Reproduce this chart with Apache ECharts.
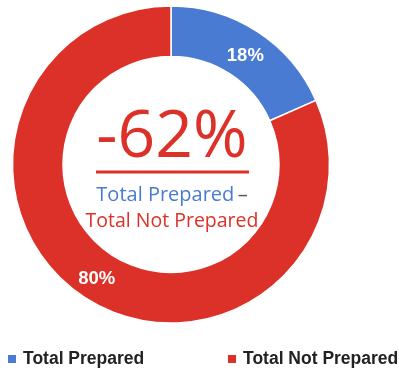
<!DOCTYPE html>
<html>
<head>
<meta charset="utf-8">
<script src="https://cdn.jsdelivr.net/npm/echarts@6/dist/echarts.min.js"></script>
<style>
  html, body { margin: 0; padding: 0; background: #fff; }
  #chart { width: 399px; height: 371px; }
</style>
</head>
<body>
<div id="chart"></div>
<script>
// Share of respondents prepared vs. not prepared
const categories = ['Total Prepared', 'Total Not Prepared'];
const shares = [18, 80];
const colors = ['#4A7BD2', '#DC3128'];
const headline = '-62%';
const captionTop = 'Total Prepared';
const captionBottom = 'Total Not Prepared';

const chart = echarts.init(document.getElementById('chart'), null, { renderer: 'canvas' });

const pieData = categories.map((name, i) => ({
  name,
  value: shares[i],
  itemStyle: { color: colors[i] },
  // nudge the small slice's label a little toward the ring centre line
  label: i === 0 ? { offset: [0, 6] } : {}
}));

const legendBase = {
  orient: 'horizontal',
  top: 350,
  padding: 0,
  itemWidth: 10,
  itemHeight: 10,
  icon: 'rect',
  textStyle: {
    fontFamily: 'Liberation Sans, Arial, sans-serif',
    fontWeight: 'bold',
    fontSize: 17.5,
    color: '#222',
    padding: [0, 0, 0, 1]
  }
};

chart.setOption({
  animation: false,
  legend: [
    Object.assign({ left: 6, data: [categories[0]] }, legendBase),
    Object.assign({ left: 226, data: [categories[1]] }, legendBase)
  ],
  series: [{
    type: 'pie',
    center: [171, 164.5],
    radius: [108, 158.5],
    startAngle: 90,
    clockwise: true,
    avoidLabelOverlap: false,
    itemStyle: { borderColor: '#fff', borderWidth: 1.5 },
    label: {
      show: true,
      position: 'inside',
      formatter: p => p.value + '%',
      color: '#fff',
      fontFamily: 'Liberation Sans, Arial, sans-serif',
      fontWeight: 'bold',
      fontSize: 18.5
    },
    labelLine: { show: false },
    emphasis: { disabled: true },
    data: pieData
  }],
  graphic: [
    {
      type: 'text',
      x: 172, y: 171,
      style: {
        text: headline,
        fill: colors[1],
        font: '66px "Open Sans", sans-serif',
        textAlign: 'center',
        textVerticalAlign: 'bottom'
      }
    },
    {
      type: 'line',
      shape: { x1: 96, y1: 172, x2: 249, y2: 172 },
      style: { stroke: colors[1], lineWidth: 3 }
    },
    {
      type: 'text',
      x: 172, y: 195,
      style: {
        rich: {
          a: { fill: colors[0], font: '20px "Open Sans", sans-serif' },
          b: { fill: '#555', font: '20px "Open Sans", sans-serif' }
        },
        text: '{a|' + captionTop + '} {b|–}',
        textAlign: 'center',
        textVerticalAlign: 'middle'
      }
    },
    {
      type: 'text',
      x: 172, y: 221,
      style: {
        text: captionBottom,
        fill: colors[1],
        font: '19.5px "Open Sans", sans-serif',
        textAlign: 'center',
        textVerticalAlign: 'middle'
      }
    }
  ]
});
</script>
</body>
</html>
